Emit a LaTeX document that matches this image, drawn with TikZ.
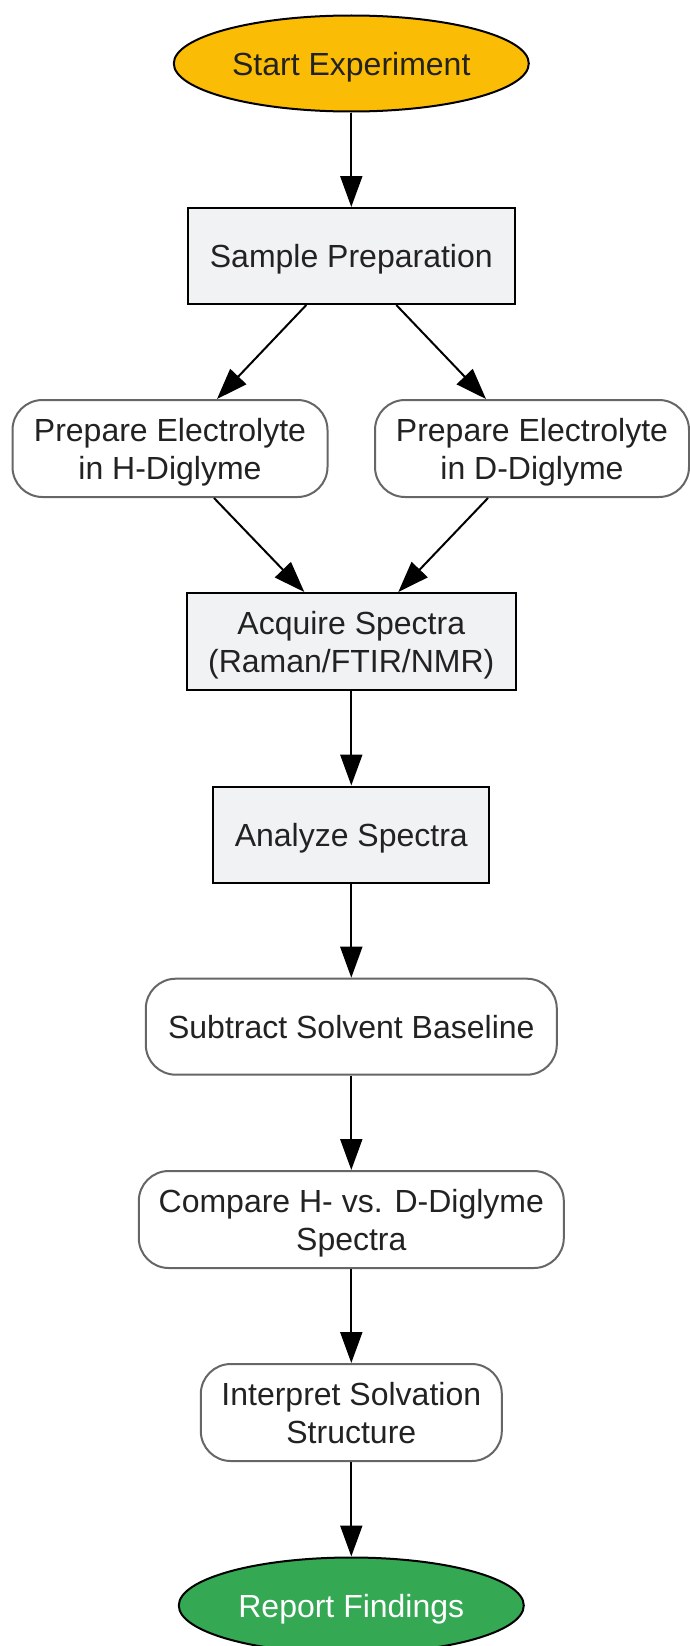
\documentclass[tikz,border=0pt]{standalone}
\usepackage{fontspec}
\setmainfont{Liberation Sans}
\usetikzlibrary{shapes.geometric,arrows.meta}
\definecolor{txt}{HTML}{222222}
\definecolor{boxfill}{HTML}{F1F2F4}
\definecolor{rndline}{HTML}{666666}
\definecolor{startfill}{HTML}{FBBC05}
\definecolor{endfill}{HTML}{34A853}
\newcommand{\fst}{\rule[-7pt]{0pt}{37.8pt}}
\newcommand{\lnst}{\rule[-7pt]{0pt}{25pt}}
\tikzset{
  base/.style={font=\fontsize{32pt}{37.8pt}\selectfont, text=txt, align=center, line width=2pt, inner sep=0pt},
  oval/.style={base, ellipse, draw=black},
  rectbox/.style={base, rectangle, draw=black, fill=boxfill},
  rndbox/.style={base, rectangle, rounded corners=30pt, draw=rndline, fill=white},
  conn/.style={line width=2pt, draw=black, -{Triangle[length=31pt,width=22pt]}}
}
\begin{document}
\begin{tikzpicture}[x=1pt,y=-1pt]
\useasboundingbox (0,0) rectangle (689,1646);
\node[oval, fill=startfill, minimum width=355pt, minimum height=96pt] (start) at (351.3,63.5) {\fst Start Experiment};
\node[rectbox, minimum width=327pt, minimum height=96pt] (sample) at (351.3,256) {\fst Sample Preparation};
\node[rndbox, minimum width=315pt, minimum height=97pt] (prepH) at (170,448.5) {\fst Prepare Electrolyte\\\lnst in H-Diglyme};
\node[rndbox, minimum width=314pt, minimum height=97pt] (prepD) at (532,448.5) {\fst Prepare Electrolyte\\\lnst in D-Diglyme};
\node[rectbox, minimum width=329pt, minimum height=97pt] (acq) at (351.3,641.5) {\fst Acquire Spectra\\\lnst (Raman/FTIR/NMR)};
\node[rectbox, minimum width=276pt, minimum height=96pt] (ana) at (351.3,834.5) {\fst Analyze Spectra};
\node[rndbox, minimum width=411pt, minimum height=96pt] (sub) at (351.3,1026.7) {\fst Subtract Solvent Baseline};
\node[rndbox, minimum width=425pt, minimum height=97pt] (cmp) at (351.3,1219.5) {\fst Compare H- vs. D-Diglyme\\\lnst Spectra};
\node[rndbox, minimum width=301pt, minimum height=97pt] (intp) at (351.3,1412.5) {\fst Interpret Solvation\\\lnst Structure};
\node[oval, fill=endfill, text=white, minimum width=345pt, minimum height=96pt] (rep) at (351.3,1605.5) {\fst Report Findings};

\draw[conn] (start) -- (sample);
\draw[conn] ([xshift=-45pt]sample.south) -- ([xshift=47pt]prepH.north);
\draw[conn] ([xshift=45pt]sample.south) -- ([xshift=-46pt]prepD.north);
\draw[conn] ([xshift=44pt]prepH.south) -- ([xshift=-47pt]acq.north);
\draw[conn] ([xshift=-44pt]prepD.south) -- ([xshift=47pt]acq.north);
\draw[conn] (acq) -- (ana);
\draw[conn] (ana) -- (sub);
\draw[conn] (sub) -- (cmp);
\draw[conn] (cmp) -- (intp);
\draw[conn] (intp) -- (rep);
\end{tikzpicture}
\end{document}
